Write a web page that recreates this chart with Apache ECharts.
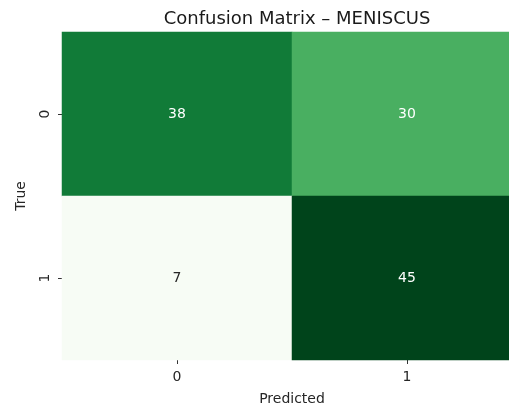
<!DOCTYPE html>
<html>
<head>
<meta charset="utf-8">
<script src="https://cdn.jsdelivr.net/npm/echarts@6/dist/echarts.min.js"></script>
<style>
  html, body { margin: 0; padding: 0; background: #fff; }
  #chart { width: 509px; height: 406px; }
</style>
</head>
<body>
<div id="chart"></div>
<script>
// Class labels for both axes
const predictedLabels = ['0', '1'];
const trueLabels = ['0', '1'];
// Confusion matrix counts, one row per true class
const row0 = [38, 30];
const row1 = [7, 45];
const matrix = [row0, row1];
// Sequential green colour ramp
const greens = ['#f7fcf5', '#e5f5e0', '#c7e9c0', '#a1d99b', '#74c476', '#41ab5d', '#238b45', '#006d2c', '#00441b'];

const all = row0.concat(row1);
const vmin = Math.min(...all);
const vmax = Math.max(...all);

const cells = [];
matrix.forEach((row, r) => {
  row.forEach((v, c) => {
    cells.push({
      value: [c, r, v],
      label: { color: v > vmin + (vmax - vmin) * 0.3 ? '#ffffff' : '#262626' }
    });
  });
});

const textColor = '#262626';
const font = 'DejaVu Sans';

const chart = echarts.init(document.getElementById('chart'), null, { renderer: 'canvas' });
chart.setOption({
  backgroundColor: '#ffffff',
  animation: false,
  title: {
    text: 'Confusion Matrix – MENISCUS',
    left: 292,
    textAlign: 'center',
    top: 5,
    textStyle: { fontFamily: font, fontSize: 18, fontWeight: 'normal', color: '#1a1a1a' }
  },
  // the plot area runs past the right edge of the canvas
  grid: { left: 62, width: 460, top: 32, height: 328, containLabel: false, outerBoundsMode: 'none' },
  xAxis: {
    type: 'category',
    data: predictedLabels,
    name: 'Predicted',
    nameLocation: 'middle',
    nameGap: 32,
    nameTextStyle: { fontFamily: font, fontSize: 14, color: textColor },
    axisLine: { show: false },
    axisTick: { show: true, alignWithLabel: true, length: 4, lineStyle: { color: '#333' } },
    axisLabel: { fontFamily: font, fontSize: 14, color: textColor, margin: 10 },
    splitLine: { show: false }
  },
  yAxis: {
    type: 'category',
    data: trueLabels,
    inverse: true,
    name: 'True',
    nameLocation: 'middle',
    nameGap: 34,
    nameRotate: 90,
    nameTextStyle: { fontFamily: font, fontSize: 14, color: textColor },
    axisLine: { show: false },
    axisTick: { show: true, alignWithLabel: true, length: 4, lineStyle: { color: '#333' } },
    axisLabel: { fontFamily: font, fontSize: 14, color: textColor, rotate: 90, margin: 10 },
    splitLine: { show: false }
  },
  visualMap: {
    show: false,
    min: vmin,
    max: vmax,
    dimension: 2,
    inRange: { color: greens }
  },
  series: [{
    type: 'heatmap',
    data: cells,
    label: { show: true, fontFamily: font, fontSize: 14 },
    itemStyle: { borderWidth: 0 },
    emphasis: { disabled: true }
  }]
});
</script>
</body>
</html>
